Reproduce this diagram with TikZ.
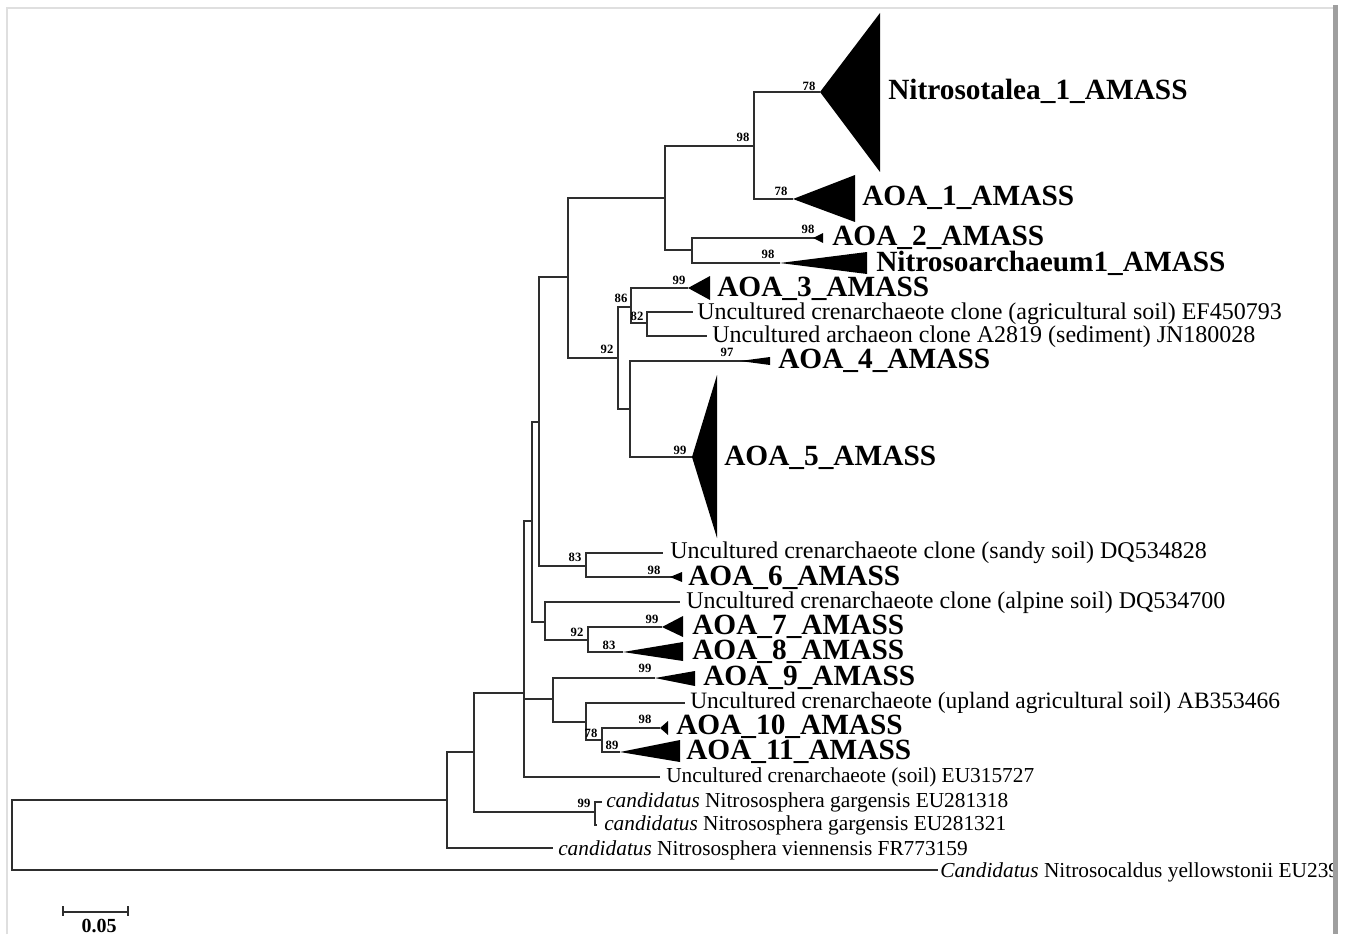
\documentclass[tikz,border=0pt]{standalone}
\usepackage{fontspec}
\setmainfont{Liberation Serif}
\begin{document}
\begin{tikzpicture}[x=0.75pt,y=-0.75pt,
 br/.style={line width=1.9pt, draw=black!82},
 tri/.style={fill=black},
 bs/.style={font=\fontsize{9.5}{10}\selectfont\bfseries, inner sep=0pt},
 bl/.style={font=\fontsize{22}{24}\selectfont\bfseries, anchor=base west, inner sep=0pt},
 rl/.style={font=\fontsize{18}{20}\selectfont, anchor=base west, inner sep=0pt},
 sl/.style={font=\fontsize{16}{17}\selectfont, anchor=base west, inner sep=0pt}]
\useasboundingbox[fill=white] (0,0) rectangle (1351,934);
% frame
\draw[gray!25, line width=0.9pt] (7,934) -- (7,8) -- (1333,8);
% internal nodes
\coordinate (r) at (12,835);
\coordinate (n1) at (447,800);
\coordinate (n2) at (474,752);
\coordinate (n3) at (524,693);
\coordinate (ng) at (595,812);
\coordinate (n4) at (532,521);
\coordinate (n5) at (553,699);
\coordinate (n6) at (539,422);
\coordinate (n7) at (545,622);
\coordinate (n8) at (568,277);
\coordinate (n9) at (586,566);
\coordinate (n10) at (665,198);
\coordinate (n11) at (618,358);
\coordinate (n12) at (754,146);
\coordinate (n13) at (692,250);
\coordinate (n14) at (631,307);
\coordinate (n15) at (630,409);
\coordinate (n16) at (647,323);
\coordinate (n17) at (588,640);
\coordinate (n18) at (586,722);
\coordinate (n19) at (602,740);
% leaf ends / clade tips
\coordinate (tNt) at (820,92);
\coordinate (tA1) at (793,199);
\coordinate (tA2) at (823,238);
\coordinate (tNa) at (780,263);
\coordinate (tA3) at (688,288);
\coordinate (lEF) at (693,312);
\coordinate (lJN) at (707,336);
\coordinate (tA4) at (770,361);
\coordinate (tA5) at (692,457);
\coordinate (lDQ8) at (663,553);
\coordinate (tA6) at (682,577);
\coordinate (lDQ7) at (680,602);
\coordinate (tA7) at (662,627);
\coordinate (tA8) at (623,652);
\coordinate (tA9) at (655,678);
\coordinate (lAB) at (685,703);
\coordinate (tA10) at (660,728);
\coordinate (tA11) at (620,752);
\coordinate (lEU3) at (660,777);
\coordinate (lg1) at (602,802);
\coordinate (lg2) at (597,825);
\coordinate (lFR) at (553,848);
\coordinate (lNc) at (938,870);
% branches
\draw[br] (r) |- (n1);  \draw[br] (r) |- (lNc);
\draw[br] (n1) |- (n2); \draw[br] (n1) |- (lFR);
\draw[br] (n2) |- (n3); \draw[br] (n2) |- (ng);
\draw[br] (ng) |- (lg1); \draw[br] (ng) |- (lg2);
\draw[br] (n3) |- (n4); \draw[br] (n3) |- (n5); \draw[br] (n3) |- (lEU3);
\draw[br] (n4) |- (n6); \draw[br] (n4) |- (n7);
\draw[br] (n6) |- (n8); \draw[br] (n6) |- (n9);
\draw[br] (n8) |- (n10); \draw[br] (n8) |- (n11);
\draw[br] (n10) |- (n12); \draw[br] (n10) |- (n13);
\draw[br] (n12) |- (tNt); \draw[br] (n12) |- (tA1);
\draw[br] (n13) |- (tA2); \draw[br] (n13) |- (tNa);
\draw[br] (n11) |- (n14); \draw[br] (n11) |- (n15);
\draw[br] (n14) |- (tA3); \draw[br] (n14) |- (n16);
\draw[br] (n16) |- (lEF); \draw[br] (n16) |- (lJN);
\draw[br] (n15) |- (tA4); \draw[br] (n15) |- (tA5);
\draw[br] (n9) |- (lDQ8); \draw[br] (n9) |- (tA6);
\draw[br] (n7) |- (lDQ7); \draw[br] (n7) |- (n17);
\draw[br] (n17) |- (tA7); \draw[br] (n17) |- (tA8);
\draw[br] (n5) |- (tA9); \draw[br] (n5) |- (n18);
\draw[br] (n18) |- (lAB); \draw[br] (n18) |- (n19);
\draw[br] (n19) |- (tA10); \draw[br] (n19) |- (tA11);
% collapsed clades
\fill[tri] (tNt) -- (880,13) -- (880,172) -- cycle;
\fill[tri] (tA1) -- (855,175) -- (855,222) -- cycle;
\fill[tri] (813,238) -- (823,233) -- (823,243) -- cycle;
\fill[tri] (tNa) -- (867,252) -- (867,274) -- cycle;
\fill[tri] (tA3) -- (710,276) -- (710,300) -- cycle;
\fill[tri] (740,361) -- (770,357) -- (770,365) -- cycle;
\fill[tri] (tA5) -- (717,375) -- (717,538) -- cycle;
\fill[tri] (670,577) -- (682,572) -- (682,582) -- cycle;
\fill[tri] (tA7) -- (683,616) -- (683,637) -- cycle;
\fill[tri] (tA8) -- (683,642) -- (683,661) -- cycle;
\fill[tri] (tA9) -- (695,671) -- (695,686) -- cycle;
\fill[tri] (tA10) -- (668,721) -- (668,735) -- cycle;
\fill[tri] (tA11) -- (680,740) -- (680,762) -- cycle;
% labels
\node[bl] (LNt) at (888,100) {Nitrosotalea\_1\_AMASS};
\node[bl] (LA1) at (862,206) {AOA\_1\_AMASS};
\node[bl] (LA2) at (832,245) {AOA\_2\_AMASS};
\node[bl] (LNa) at (876,271) {Nitrosoarchaeum1\_AMASS};
\node[bl] (LA3) at (717,296) {AOA\_3\_AMASS};
\node[rl] (LEF) at (697,319) {Uncultured crenarchaeote clone (agricultural soil) EF450793};
\node[rl] (LJN) at (712,342) {Uncultured archaeon clone A2819 (sediment) JN180028};
\node[bl] (LA4) at (778,368) {AOA\_4\_AMASS};
\node[bl] (LA5) at (724,465) {AOA\_5\_AMASS};
\node[rl] (LDQ8) at (670,558) {Uncultured crenarchaeote clone (sandy soil) DQ534828};
\node[bl] (LA6) at (688,585) {AOA\_6\_AMASS};
\node[rl] (LDQ7) at (686,608) {Uncultured crenarchaeote clone (alpine soil) DQ534700};
\node[bl] (LA7) at (692,634) {AOA\_7\_AMASS};
\node[bl] (LA8) at (692,659) {AOA\_8\_AMASS};
\node[bl] (LA9) at (703,685) {AOA\_9\_AMASS};
\node[rl, font=\fontsize{17.6}{19}\selectfont] (LAB) at (690,708) {Uncultured crenarchaeote (upland agricultural soil) AB353466};
\node[bl] (LA10) at (676,734) {AOA\_10\_AMASS};
\node[bl] (LA11) at (686,759) {AOA\_11\_AMASS};
\node[sl] (LEU3) at (666,782) {Uncultured crenarchaeote (soil) EU315727};
\node[sl] (Lg1) at (606,807) {\textit{candidatus} Nitrososphera gargensis EU281318};
\node[sl] (Lg2) at (604,830) {\textit{candidatus} Nitrososphera gargensis EU281321};
\node[sl] (LFR) at (558,855) {\textit{candidatus} Nitrososphera viennensis FR773159};
\begin{scope}
\clip (0,0) rectangle (1333,934);
\node[sl] (LNc) at (940,877) {\textit{Candidatus} Nitrosocaldus yellowstonii EU239};
\end{scope}
% bootstrap values
\node[bs] at (809,86) {78};
\node[bs] at (743,137) {98};
\node[bs] at (781,191) {78};
\node[bs] at (808,229) {98};
\node[bs] at (768,254) {98};
\node[bs] at (679,280) {99};
\node[bs] at (621,298) {86};
\node[bs] at (637,316) {82};
\node[bs] at (607,349) {92};
\node[bs] at (727,352) {97};
\node[bs] at (680,450) {99};
\node[bs] at (575,557) {83};
\node[bs] at (654,570) {98};
\node[bs] at (652,619) {99};
\node[bs] at (577,632) {92};
\node[bs] at (609,645) {83};
\node[bs] at (645,668) {99};
\node[bs] at (645,719) {98};
\node[bs] at (591,733) {78};
\node[bs] at (612,745) {89};
\node[bs] at (584,803) {99};
% scale bar
\coordinate (s0) at (63,912);
\coordinate (s1) at (128,912);
\draw[line width=1.3pt, draw=black!82] (s0) -- (s1);
\draw[line width=1.3pt, draw=black!82] ([yshift=4.5pt]s0) -- ([yshift=-3pt]s0);
\draw[line width=1.3pt, draw=black!82] ([yshift=4.5pt]s1) -- ([yshift=-3pt]s1);
\node[font=\fontsize{15}{16}\selectfont\bfseries, anchor=base, inner sep=0pt] (sc) at (99,932) {0.05};
% right border bar
\fill[gray!75] (1333,5) rectangle (1338,934);
\end{tikzpicture}
\end{document}
